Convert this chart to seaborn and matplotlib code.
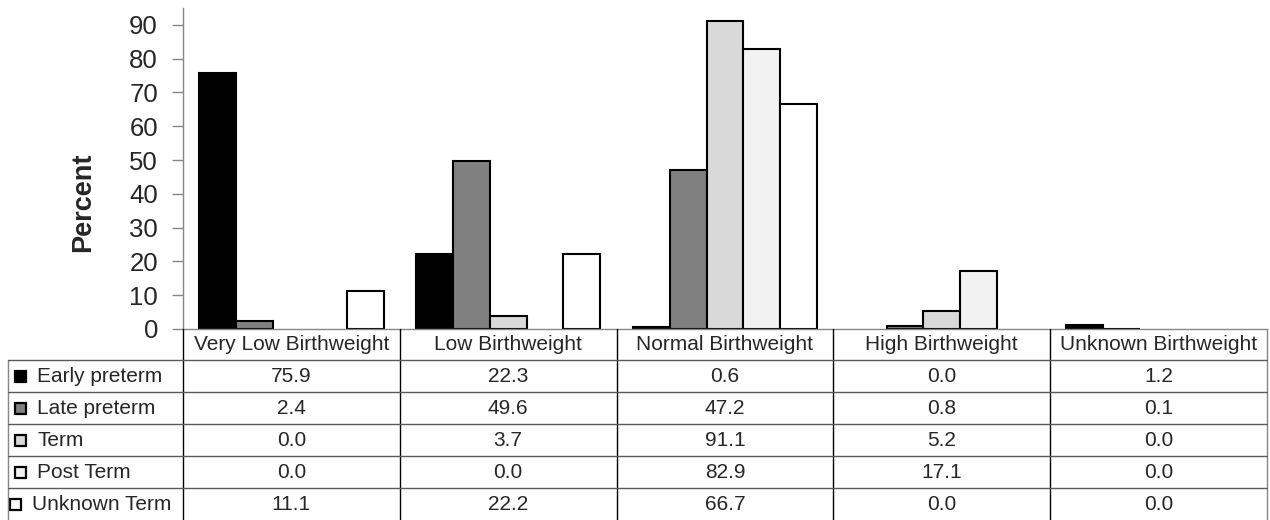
import matplotlib
matplotlib.use("Agg")
import matplotlib.pyplot as plt
import matplotlib.transforms as mtransforms
from matplotlib.lines import Line2D
from matplotlib.patches import Rectangle
import pandas as pd
import seaborn as sns

# Birthweight categories (columns) and gestation groups (series)
categories = ["Very Low Birthweight", "Low Birthweight", "Normal Birthweight",
              "High Birthweight", "Unknown Birthweight"]
series = ["Early preterm", "Late preterm", "Term", "Post Term", "Unknown Term"]

early_preterm = [75.9, 22.3, 0.6, 0.0, 1.2]
late_preterm = [2.4, 49.6, 47.2, 0.8, 0.1]
term = [0.0, 3.7, 91.1, 5.2, 0.0]
post_term = [0.0, 0.0, 82.9, 17.1, 0.0]
unknown_term = [11.1, 22.2, 66.7, 0.0, 0.0]

y_ticks = [0, 10, 20, 30, 40, 50, 60, 70, 80, 90]
series_colors = ["#000000", "#808080", "#d9d9d9", "#f2f2f2", "#ffffff"]

values = [early_preterm, late_preterm, term, post_term, unknown_term]
df = pd.DataFrame(
    [(cat, s, v[i]) for s, v in zip(series, values) for i, cat in enumerate(categories)],
    columns=["category", "group", "percent"],
)

sns.set_style("white")
plt.rcParams["font.family"] = ["Liberation Sans", "DejaVu Sans"]

W, H = 1270, 520
fig = plt.figure(figsize=(W / 100, H / 100), dpi=100)
ax_left, ax_right, ax_top, ax_bottom = 183, 1267, 8, 329
ax = fig.add_axes([ax_left / W, 1 - ax_bottom / H,
                   (ax_right - ax_left) / W, (ax_bottom - ax_top) / H])

sns.barplot(data=df, x="category", y="percent", hue="group",
            order=categories, hue_order=series,
            palette=dict(zip(series, series_colors)),
            width=0.85, edgecolor="black", linewidth=1.5,
            legend=False, ax=ax)

# zero-valued bars are not drawn at all (no outline sitting on the axis)
for patch in ax.patches:
    if patch.get_height() == 0:
        patch.set_visible(False)

ax.set_xlim(-0.5, len(categories) - 0.5)
ax.set_ylim(0, 95)
ax.set_yticks(y_ticks)
ax.set_xticks([])
ax.set_xlabel("")
ax.set_ylabel("")
axis_gray = "#868686"
for side in ("top", "right"):
    ax.spines[side].set_visible(False)
for side in ("left", "bottom"):
    ax.spines[side].set_color(axis_gray)
    ax.spines[side].set_linewidth(1.0)
ax.tick_params(axis="y", direction="out", length=8, width=1.0,
               color=axis_gray, labelsize=18.5, pad=10, left=True)

fig.text(83 / W, 1 - 202 / H, "Percent", rotation=90, ha="center",
         va="center", fontsize=19.5, fontweight="bold")

# ---- data table below the axis ----
def fy(py):
    return 1 - py / H

def fx(px):
    return px / W

col_trans = mtransforms.blended_transform_factory(ax.transData, fig.transFigure)
vline_color = "#000000"
hline_color = "#5a5a5a"
table_fs = 15

header_top, header_bottom = ax_bottom, 360
row_edges = [360, 392, 424, 456, 488, 520]
label_left = 8

# vertical column borders
for i in range(len(categories) + 1):
    xb = i - 0.5
    fig.add_artist(Line2D([xb, xb], [fy(header_top), fy(H)], transform=col_trans,
                          color=vline_color if i < len(categories) else axis_gray,
                          lw=1.0))
# left border of the row label column
fig.add_artist(Line2D([fx(label_left), fx(label_left)], [fy(row_edges[0]), fy(H)],
                      transform=fig.transFigure, color=axis_gray, lw=1.0))
# horizontal row borders
for yb in row_edges[:-1]:
    fig.add_artist(Line2D([fx(label_left), fx(ax_right)], [fy(yb), fy(yb)],
                          transform=fig.transFigure, color=hline_color, lw=1.0))

# category header labels
for i, cat in enumerate(categories):
    fig.text(i, fy((header_top + header_bottom) / 2), cat, transform=col_trans,
             ha="center", va="center", fontsize=table_fs)

# row labels with legend keys, and cell values
for r, (name, vals, col) in enumerate(zip(series, values, series_colors)):
    yc = (row_edges[r] + row_edges[r + 1]) / 2
    key_x, text_x = (15, 37) if r < len(series) - 1 else (10, 32)
    fig.add_artist(Rectangle((fx(key_x), fy(yc + 6)), 11 / W, 11 / H,
                             transform=fig.transFigure, facecolor=col,
                             edgecolor="black", lw=1.6))
    fig.text(fx(text_x), fy(yc), name, ha="left", va="center", fontsize=table_fs)
    for i, v in enumerate(vals):
        fig.text(i, fy(yc), f"{v:.1f}", transform=col_trans,
                 ha="center", va="center", fontsize=table_fs)

fig.savefig("out.png", dpi=100)
